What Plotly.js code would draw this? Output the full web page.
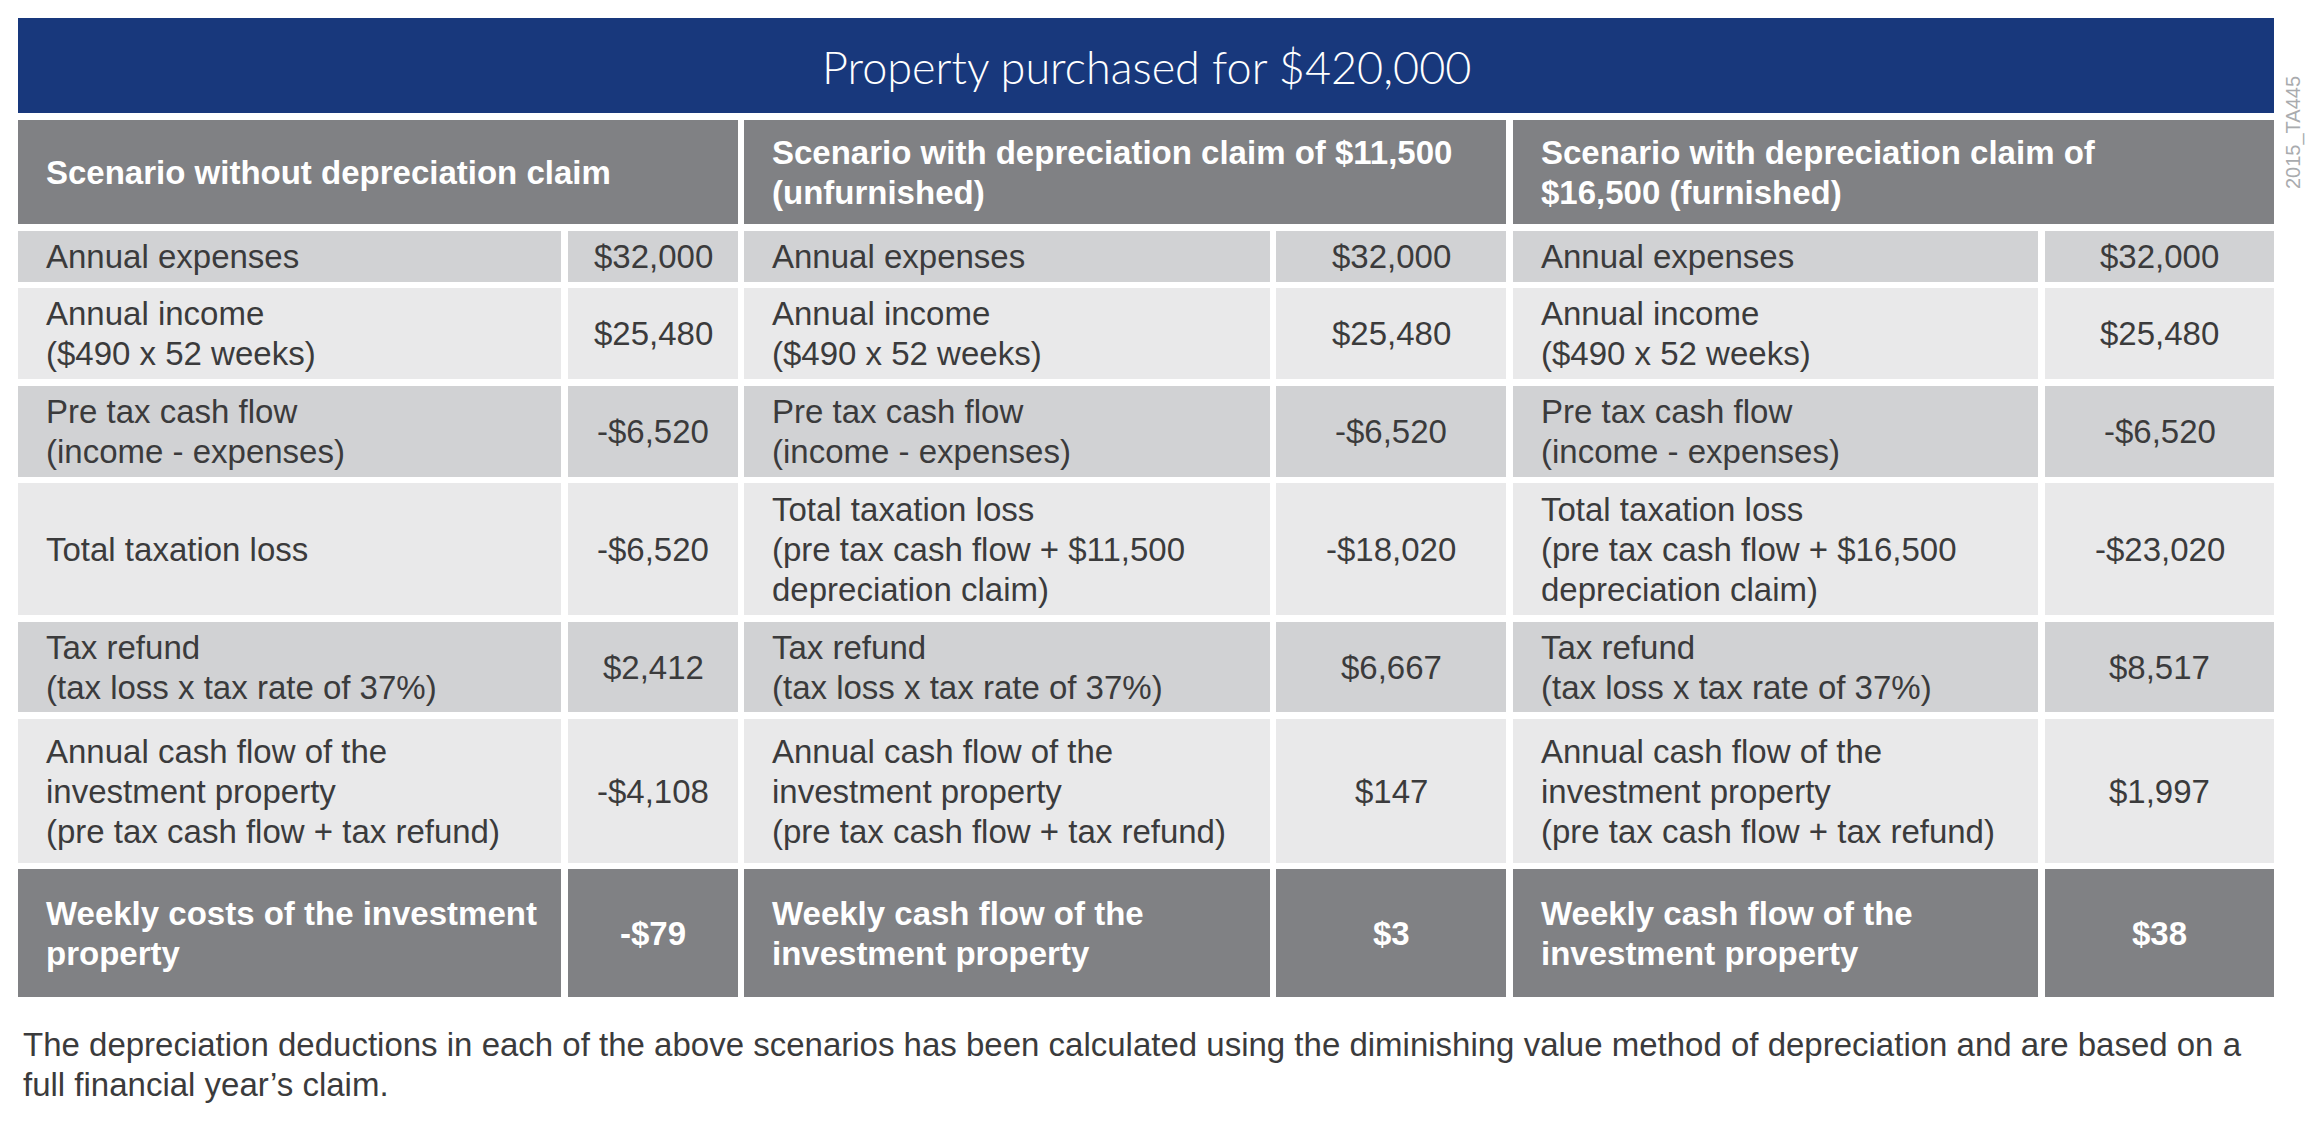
<!DOCTYPE html>
<html>
<head>
<meta charset="utf-8">
<script src="https://cdn.plot.ly/plotly-3.0.1.min.js"></script>
<style>
  html, body { margin: 0; padding: 0; background: #ffffff; }
  #chart { width: 2315px; height: 1122px; }
</style>
</head>
<body>
<div id="chart"></div>
<script>
// ---------------- DATA ----------------
const chartTitle = 'Property purchased for $420,000';
const scenarioHeaders = [
  'Scenario without depreciation claim',
  'Scenario with depreciation claim of $11,500\n(unfurnished)',
  'Scenario with depreciation claim of\n$16,500 (furnished)'
];
const scenario1Labels = [
  'Annual expenses',
  'Annual income\n($490 x 52 weeks)',
  'Pre tax cash flow\n(income - expenses)',
  'Total taxation loss',
  'Tax refund\n(tax loss x tax rate of 37%)',
  'Annual cash flow of the\ninvestment property\n(pre tax cash flow + tax refund)',
  'Weekly costs of the investment\nproperty'
];
const scenario2Labels = [
  'Annual expenses',
  'Annual income\n($490 x 52 weeks)',
  'Pre tax cash flow\n(income - expenses)',
  'Total taxation loss\n(pre tax cash flow + $11,500\ndepreciation claim)',
  'Tax refund\n(tax loss x tax rate of 37%)',
  'Annual cash flow of the\ninvestment property\n(pre tax cash flow + tax refund)',
  'Weekly cash flow of the\ninvestment property'
];
const scenario3Labels = [
  'Annual expenses',
  'Annual income\n($490 x 52 weeks)',
  'Pre tax cash flow\n(income - expenses)',
  'Total taxation loss\n(pre tax cash flow + $16,500\ndepreciation claim)',
  'Tax refund\n(tax loss x tax rate of 37%)',
  'Annual cash flow of the\ninvestment property\n(pre tax cash flow + tax refund)',
  'Weekly cash flow of the\ninvestment property'
];
const scenario1Values = [32000, 25480, -6520, -6520, 2412, -4108, -79];
const scenario2Values = [32000, 25480, -6520, -18020, 6667, 147, 3];
const scenario3Values = [32000, 25480, -6520, -23020, 8517, 1997, 38];
const footnoteLines = [
  'The depreciation deductions in each of the above scenarios has been calculated using the diminishing value method of depreciation and are based on a',
  'full financial year\u2019s claim.'
];
const watermark = '2015_TA445';

// ---------------- LAYOUT (positions / styles) ----------------
const W = 2315, H = 1122;
const titleBox = {x0: 18, x1: 2274, y0: 18, y1: 113};
const headerBox = {y0: 120, y1: 224};
const blocks = [
  {x0: 18,   split0: 561,  split1: 568,  x1: 738},
  {x0: 744,  split0: 1270, split1: 1276, x1: 1506},
  {x0: 1513, split0: 2038, split1: 2045, x1: 2274}
];
const rowEdges = [[231,282],[288,379],[386,477],[483,615],[622,712],[719,863],[869,997]];
const rowStyles = ['dark','light','dark','light','dark','light','total'];
const colors = {
  title: '#18387c', header: '#808184', dark: '#d1d2d4', light: '#e9e9ea', total: '#808184',
  text: '#3b3b3c', white: '#ffffff', mark: '#a9abae'
};
const FONT = '"Liberation Sans", Arial, Helvetica, sans-serif';
const FS = 33, LINE = 40, PADL = 26;

const scenarioLabels = [scenario1Labels, scenario2Labels, scenario3Labels];
const scenarioValues = [scenario1Values, scenario2Values, scenario3Values];

function fmt(v) {
  const s = '$' + Math.abs(v).toLocaleString('en-US');
  return v < 0 ? '-' + s : s;
}

const shapes = [];
const annotations = [];
function rect(x0, y0, x1, y1, fill) {
  shapes.push({type: 'rect', xref: 'x', yref: 'y', x0, y0, x1, y1,
    fillcolor: fill, line: {width: 0}, layer: 'below'});
}
function textBlock(text, x, yc, xanchor, color, bold, size) {
  const lines = text.split('\n');
  const n = lines.length;
  lines.forEach((ln, i) => {
    annotations.push({
      xref: 'x', yref: 'y', x: x, y: yc + (i - (n - 1) / 2) * LINE,
      text: bold ? '<b>' + ln + '</b>' : ln,
      showarrow: false, xanchor: xanchor, yanchor: 'middle',
      font: {family: FONT, size: size || FS, color: color}
    });
  });
}

// Title bar
rect(titleBox.x0, titleBox.y0, titleBox.x1, titleBox.y1, colors.title);
annotations.push({
  xref: 'x', yref: 'y', x: (titleBox.x0 + titleBox.x1) / 2, y: (titleBox.y0 + titleBox.y1) / 2 + 1,
  text: chartTitle, showarrow: false, xanchor: 'center', yanchor: 'middle',
  font: {family: '"Lato", "Open Sans", ' + FONT, size: 45, color: colors.white, weight: 300}
});

// Headers and cells
blocks.forEach((b, bi) => {
  rect(b.x0, headerBox.y0, b.x1, headerBox.y1, colors.header);
  textBlock(scenarioHeaders[bi], b.x0 + PADL, (headerBox.y0 + headerBox.y1) / 2, 'left', colors.white, true);
  rowEdges.forEach((re, ri) => {
    const style = rowStyles[ri];
    const fill = colors[style];
    rect(b.x0, re[0], b.split0, re[1], fill);
    rect(b.split1, re[0], b.x1, re[1], fill);
    const yc = (re[0] + re[1]) / 2;
    const isTotal = style === 'total';
    const col = isTotal ? colors.white : colors.text;
    textBlock(scenarioLabels[bi][ri], b.x0 + PADL, yc, 'left', col, isTotal);
    textBlock(fmt(scenarioValues[bi][ri]), (b.split1 + b.x1) / 2, yc, 'center', col, isTotal);
  });
});

// Footnote
footnoteLines.forEach((ln, i) => {
  annotations.push({
    xref: 'x', yref: 'y', x: 21, y: 1044 + i * 40,
    text: ln, showarrow: false, xanchor: 'left', yanchor: 'middle',
    font: {family: FONT, size: FS, color: colors.text}
  });
});

// Watermark
annotations.push({
  xref: 'x', yref: 'y', x: 2293, y: 133, text: watermark, showarrow: false,
  textangle: -90, xanchor: 'center', yanchor: 'middle',
  font: {family: FONT, size: 20, color: colors.mark}
});

const layout = {
  width: W, height: H,
  margin: {l: 0, r: 0, t: 0, b: 0, pad: 0},
  paper_bgcolor: '#ffffff', plot_bgcolor: '#ffffff',
  showlegend: false,
  xaxis: {range: [0, W], visible: false, fixedrange: true},
  yaxis: {range: [H, 0], visible: false, fixedrange: true},
  shapes: shapes,
  annotations: annotations
};

Plotly.newPlot('chart', [{x: [], y: [], type: 'scatter', mode: 'markers', hoverinfo: 'skip'}], layout,
  {displayModeBar: false, staticPlot: true});
</script>
</body>
</html>
